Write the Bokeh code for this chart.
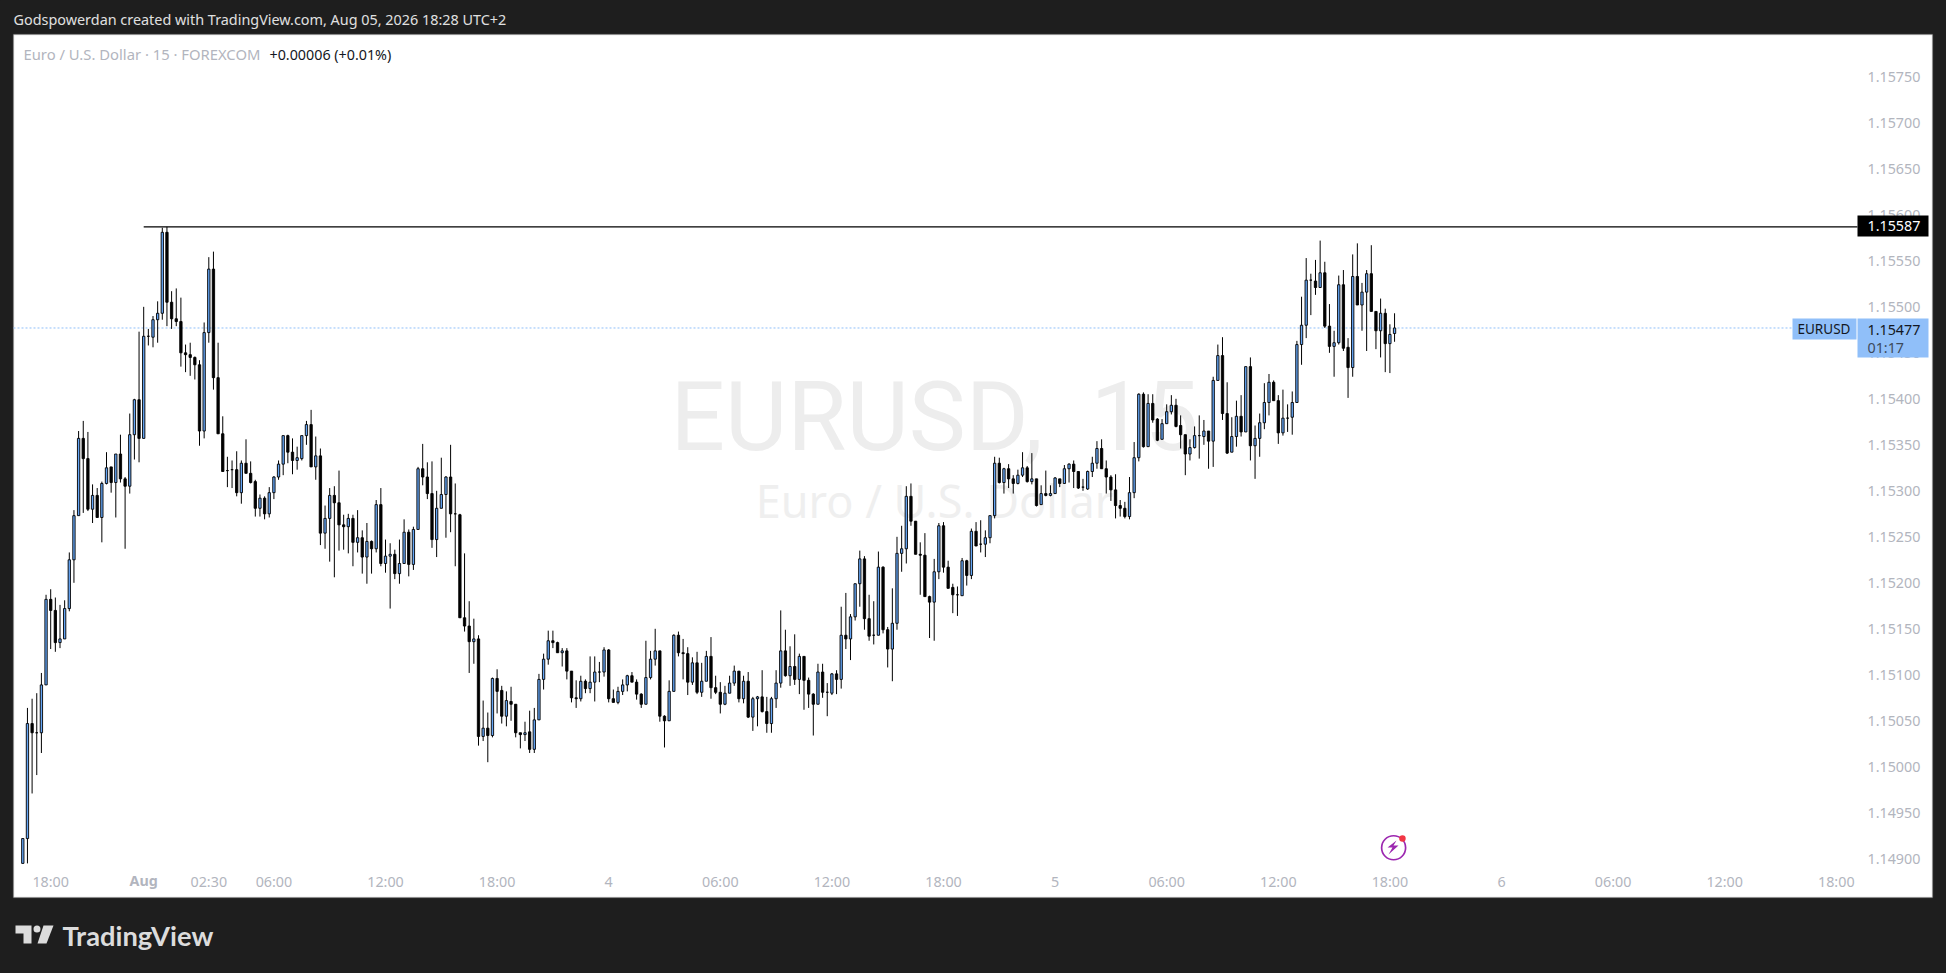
from bokeh.plotting import figure, ColumnDataSource
from bokeh.embed import file_html
from bokeh.resources import INLINE
from bokeh.models import (BoxAnnotation, Label, PolyAnnotation, FixedTicker, Range1d)

opens_pts = [
114895,114922,115047,115037,115037,115089,115182,115170,115135,115139,
115172,115225,115273,115357,115335,115280,115295,115271,115308,115326,
115309,115340,115313,115305,115361,115399,115357,115468,115467,115486,
115493,115581,115505,115487,115484,115450,115448,115445,115437,115365,
115472,115541,115423,115362,115322,115323,115323,115298,115330,115319,
115310,115281,115292,115275,115298,115315,115329,115360,115342,115333,
115335,115360,115372,115326,115338,115254,115270,115295,115287,115263,
115261,115270,115244,115249,115228,115245,115237,115285,115221,115229,
115231,115210,115221,115255,115220,115258,115324,115315,115297,115247,
115281,115296,115315,115275,115274,115162,115153,115136,115139,115033,
115042,115034,115096,115083,115055,115071,115068,115037,115035,115038,
115019,115051,115095,115117,115137,115135,115124,115126,115104,115075,
115074,115093,115085,115092,115103,115103,115127,115074,115070,115082,
115089,115099,115092,115079,115068,115097,115117,115126,115055,115050,
115082,115143,115124,115123,115092,115113,115081,115093,115120,115086,
115081,115068,115080,115091,115104,115074,115093,115054,115074,115076,
115060,115047,115074,115091,115126,115099,115109,115095,115120,115094,
115079,115068,115103,115081,115080,115101,115095,115143,115139,115163,
115199,115226,115161,115143,115143,115217,115149,115128,115156,115232,
115237,115294,115267,115231,115230,115185,115179,115212,115262,115217,
115195,115187,115186,115224,115208,115256,115242,115242,115249,115273,
115330,115309,115324,115313,115308,115317,115325,115310,115313,115285,
115297,115295,115297,115313,115308,115324,115329,115321,115304,115302,
115321,115330,115346,115324,115315,115301,115284,115281,115272,115298,
115336,115405,115348,115395,115378,115356,115373,115386,115393,115371,
115361,115340,115347,115360,115359,115365,115354,115420,115447,115384,
115342,115359,115381,115364,115435,115349,115357,115374,115396,115418,
115398,115363,115379,115380,115396,115459,115480,115529,115528,115521,
115537,115479,115457,115461,115524,115456,115434,115533,115502,115516,
115536,115495,115474,115493,115460,115471]

closes_pts = [
114922,115047,115037,115037,115089,115182,115170,115135,115139,115172,
115225,115273,115357,115335,115280,115295,115271,115308,115325,115309,
115340,115313,115305,115361,115399,115357,115468,115468,115486,115493,
115581,115505,115487,115484,115450,115448,115445,115437,115365,115472,
115541,115423,115362,115321,115322,115323,115298,115330,115319,115309,
115281,115292,115275,115298,115315,115329,115360,115342,115333,115336,
115360,115372,115326,115338,115254,115270,115295,115287,115263,115261,
115270,115244,115249,115228,115245,115237,115285,115221,115229,115231,
115210,115221,115255,115220,115258,115324,115315,115297,115247,115281,
115296,115315,115275,115275,115162,115153,115136,115139,115033,115042,
115034,115096,115082,115055,115072,115068,115037,115035,115037,115019,
115051,115095,115117,115137,115135,115124,115126,115104,115075,115074,
115093,115085,115092,115103,115103,115127,115074,115070,115082,115089,
115099,115092,115079,115068,115097,115117,115126,115055,115050,115082,
115143,115124,115123,115092,115113,115081,115093,115120,115086,115081,
115068,115080,115091,115104,115074,115093,115054,115074,115076,115060,
115047,115074,115091,115126,115099,115109,115095,115120,115094,115079,
115068,115103,115081,115081,115101,115095,115143,115139,115163,115199,
115226,115161,115142,115143,115217,115149,115128,115156,115232,115237,
115294,115267,115231,115230,115185,115179,115212,115262,115217,115194,
115187,115187,115224,115208,115256,115240,115242,115249,115273,115330,
115309,115324,115313,115308,115317,115325,115310,115313,115284,115297,
115295,115297,115314,115308,115324,115329,115321,115303,115304,115321,
115330,115346,115324,115315,115301,115284,115281,115272,115298,115336,
115405,115348,115395,115377,115355,115373,115386,115393,115370,115361,
115340,115347,115360,115360,115365,115354,115420,115447,115384,115341,
115359,115381,115364,115435,115349,115357,115374,115396,115418,115398,
115363,115379,115379,115396,115459,115480,115529,115529,115521,115537,
115479,115457,115461,115524,115455,115434,115533,115502,115516,115536,
115495,115474,115493,115460,115470,115477]

highs_pts = [
114922,115064,115074,115080,115102,115187,115193,115184,115176,115181,
115233,115279,115365,115376,115364,115307,115303,115310,115342,115326,
115340,115361,115315,115384,115400,115473,115500,115476,115490,115506,
115586,115587,115517,115520,115510,115459,115461,115446,115442,115483,
115554,115560,115461,115381,115337,115333,115343,115333,115356,115332,
115312,115296,115294,115304,115316,115333,115360,115361,115357,115348,
115360,115376,115388,115359,115346,115284,115303,115305,115322,115274,
115275,115274,115279,115257,115265,115246,115290,115303,115247,115243,
115236,115247,115269,115258,115261,115326,115351,115331,115332,115300,
115336,115316,115350,115308,115275,115232,115180,115161,115143,115072,
115059,115097,115106,115088,115082,115087,115068,115037,115049,115061,
115064,115101,115123,115148,115148,115136,115129,115129,115104,115094,
115099,115095,115120,115120,115114,115130,115128,115084,115087,115095,
115100,115103,115095,115080,115137,115126,115150,115126,115056,115094,
115144,115147,115139,115130,115119,115125,115113,115126,115141,115099,
115092,115088,115099,115110,115104,115099,115103,115076,115077,115105,
115076,115076,115105,115170,115149,115131,115144,115123,115120,115097,
115080,115112,115112,115091,115102,115105,115174,115189,115166,115199,
115235,115229,115187,115180,115234,115218,115152,115194,115250,115262,
115305,115308,115267,115244,115254,115186,115226,115265,115266,115224,
115199,115196,115227,115225,115259,115266,115268,115257,115273,115337,
115336,115325,115329,115317,115323,115342,115327,115341,115313,115306,
115322,115306,115315,115313,115328,115330,115333,115321,115313,115322,
115337,115354,115356,115333,115317,115318,115290,115288,115315,115353,
115406,115407,115405,115405,115379,115378,115394,115404,115400,115382,
115361,115356,115370,115382,115377,115365,115424,115459,115467,115418,
115380,115398,115404,115435,115445,115371,115384,115417,115427,115420,
115404,115410,115394,115408,115463,115511,115553,115536,115551,115572,
115549,115503,115474,115534,115540,115466,115557,115569,115526,115540,
115567,115495,115509,115498,115481,115493]

lows_pts = [
114895,114895,114971,114991,115015,115089,115128,115125,115129,115139,
115169,115200,115273,115276,115278,115265,115271,115244,115307,115298,
115271,115309,115237,115297,115334,115331,115357,115458,115456,115461,
115486,115479,115476,115479,115435,115429,115425,115421,115349,115357,
115461,115410,115362,115321,115304,115303,115294,115286,115319,115308,
115272,115272,115269,115271,115291,115312,115317,115330,115318,115323,
115333,115350,115326,115312,115241,115237,115223,115206,115235,115236,
115232,115218,115233,115210,115199,115210,115233,115218,115211,115172,
115204,115199,115221,115207,115214,115258,115306,115291,115238,115228,
115281,115249,115255,115218,115162,115147,115102,115112,115023,115028,
115005,115032,115058,115047,115044,115050,115032,115020,115028,115015,
115015,115051,115084,115111,115129,115124,115109,115095,115070,115064,
115071,115080,115080,115071,115092,115098,115070,115070,115068,115078,
115082,115092,115073,115064,115068,115095,115110,115049,115021,115050,
115082,115120,115095,115078,115089,115079,115076,115093,115074,115079,
115058,115067,115080,115088,115070,115069,115053,115039,115044,115059,
115037,115037,115064,115086,115098,115088,115089,115079,115062,115064,
115034,115068,115075,115055,115078,115079,115085,115128,115116,115159,
115174,115149,115137,115133,115143,115145,115108,115093,115149,115212,
115221,115262,115231,115187,115185,115140,115137,115204,115211,115194,
115167,115164,115186,115197,115204,115240,115233,115228,115243,115270,
115308,115297,115303,115297,115307,115315,115309,115307,115283,115285,
115294,115294,115297,115304,115308,115309,115303,115302,115300,115301,
115315,115324,115324,115297,115289,115270,115272,115270,115269,115292,
115332,115347,115348,115374,115354,115356,115373,115383,115369,115346,
115317,115333,115346,115335,115350,115324,115326,115420,115377,115340,
115342,115348,115359,115364,115333,115313,115337,115367,115382,115398,
115351,115360,115364,115361,115396,115437,115466,115491,115513,115521,
115477,115450,115424,115459,115452,115401,115424,115502,115474,115452,
115495,115454,115445,115429,115428,115462]

time_ticks = [6, 40, 54, 78, 102, 126, 150, 174, 198, 222, 246, 270, 294, 318, 342, 366, 390]
time_labels = ["18:00", "02:30", "06:00", "12:00", "18:00", "4", "06:00", "12:00", "18:00",
               "5", "06:00", "12:00", "18:00", "6", "06:00", "12:00", "18:00"]
month_tick = 26
month_label = "Aug"
price_ticks = [1.149, 1.1495, 1.15, 1.1505, 1.151, 1.1515, 1.152, 1.1525, 1.153,
               1.1535, 1.154, 1.1545, 1.155, 1.1555, 1.156, 1.1565, 1.157, 1.1575]
level_price = 1.15587
last_price = 1.15477

DARK = "#1e1e1e"
BLUE = "#90bff9"
BODY_BLUE = "#64a5f5"
GREY = "#b2b5be"
INK = "#131722"
FONT = "Noto Sans"
PANE_END = 394.55

idx = list(range(len(opens_pts)))
o = [v / 1e5 for v in opens_pts]
h = [v / 1e5 for v in highs_pts]
l = [v / 1e5 for v in lows_pts]
c = [v / 1e5 for v in closes_pts]
src = ColumnDataSource(dict(
    x=idx, o=o, h=h, l=l, c=c,
    fill=[BODY_BLUE if cc > oo else "#000000" for oo, cc in zip(o, c)],
    top=[max(a, b) for a, b in zip(o, c)],
    bottom=[min(a, b) for a, b in zip(o, c)],
))

p = figure(width=1946, height=973, frame_width=1946, frame_height=973,
           x_range=Range1d(-4.796, 413.7), y_range=Range1d(1.147753, 1.15833),
           y_axis_location="right", output_backend="svg", toolbar_location=None,
           min_border_left=0, min_border_top=0, min_border_right=0, min_border_bottom=0,
           border_fill_color=DARK, background_fill_color=DARK, outline_line_color=None)
p.grid.visible = False

p.add_layout(BoxAnnotation(left=13, right=1932, top=34, bottom=897,
                           left_units="canvas", right_units="canvas", top_units="canvas", bottom_units="canvas",
                           fill_color="#ffffff", fill_alpha=1, line_color="#8a8a8a", line_width=1.5,
                           level="underlay"))

for axis in (p.xaxis[0], p.yaxis[0]):
    axis.axis_line_color = None
    axis.major_tick_line_color = None
    axis.minor_tick_line_color = None
    axis.major_label_text_color = GREY
    axis.major_label_text_font = FONT
    axis.major_label_text_font_size = "14.3px"

p.xaxis[0].ticker = FixedTicker(ticks=time_ticks)
p.xaxis[0].major_label_overrides = {t: s for t, s in zip(time_ticks, time_labels)}
p.xaxis[0].major_label_standoff = -108
p.yaxis[0].ticker = FixedTicker(ticks=price_ticks)
p.yaxis[0].major_label_overrides = {t: f"{t:.5f}" for t in price_ticks}
p.yaxis[0].major_label_standoff = -85


def text(s, x, y, color, size, weight="normal", align="left", baseline="middle", level="annotation", font=FONT):
    p.add_layout(Label(x=x, y=y, x_units="canvas", y_units="canvas",
                       text=s, text_color=color, text_font=font, text_font_size=f"{size}px",
                       text_font_style=weight, text_align=align, text_baseline=baseline, level=level))


def poly(points, color):
    p.add_layout(PolyAnnotation(xs=[a for a, _ in points], ys=[b for _, b in points],
                                xs_units="canvas", ys_units="canvas",
                                fill_color=color, fill_alpha=1, line_color=None))


def tag(left, right, top, bottom, color):
    p.add_layout(BoxAnnotation(left=left, right=right, top=top, bottom=bottom,
                               left_units="canvas", right_units="canvas", top_units="canvas", bottom_units="canvas",
                               fill_color=color, fill_alpha=1, line_color=None, level="annotation"))


# watermark
text("EURUSD,\u00a0\u00a015", 670, 416, "#ededed", 96, level="underlay", font="Roboto")
text("Euro / U.S. Dollar", 934, 500, "#efefef", 45, align="center", level="underlay")

# current price line
p.line([-2, PANE_END], [last_price, last_price], line_color=BLUE, line_width=1, line_dash="2 2")

# candles
p.segment("x", "h", "x", "l", source=src, line_color="#000000", line_width=1)
p.vbar("x", 0.5, "top", "bottom", source=src, fill_color="fill", line_color="#000000", line_width=0.9)

# drawn level
p.line([month_tick, PANE_END], [level_price, level_price], line_color="#000000", line_width=1.2)

# bolt icon
p.scatter([294.8], [1.14912], marker="circle", size=24, fill_color=None, line_color="#9c27b0", line_width=1.7)
p.scatter([296.7], [1.14922], marker="circle", size=6.5, fill_color="#f23645", line_color=None)
poly([(1396, 840), (1387, 847), (1392, 847), (1388, 854), (1398, 845), (1393, 845)], "#9c27b0")

# month tag of the time scale
p.add_layout(Label(x=month_tick, y=879.5, x_units="data", y_units="canvas", text=month_label, text_color=GREY,
                   text_font=FONT, text_font_size="14.3px", text_font_style="bold",
                   text_align="center", text_baseline="middle"))

# price tags
tag(1857, 1928, 215, 236, "#000000")
text("1.15587", 1867, 225.5, "#ffffff", 14.3)
tag(1857, 1928, 318, 357, BLUE)
text("1.15477", 1867, 329, INK, 14.3)
text("01:17", 1867, 347, "#3d4a5c", 14.3)
tag(1792, 1856, 318, 339, BLUE)
text("EURUSD", 1797, 328.5, INK, 13.5)

# header, legend
text("Godspowerdan created with TradingView.com, Aug 05, 2026 18:28 UTC+2", 13, 19, "#e0e0e0", 14.4)
text("Euro / U.S. Dollar · 15 · FOREXCOM", 23, 53.5, GREY, 14.8)
text("+0.00006 (+0.01%)", 269, 53.5, INK, 14.3)

# logo
poly([(15, 925), (31, 925), (31, 943), (23, 943), (23, 933), (15, 933)], "#dcdcdc")
poly([(43, 925), (53, 925), (46, 943), (37, 943)], "#dcdcdc")
p.add_layout(BoxAnnotation(left=33, right=40, top=925, bottom=932,
                           left_units="canvas", right_units="canvas", top_units="canvas", bottom_units="canvas",
                           fill_color="#dcdcdc", fill_alpha=1, line_color=None, border_radius=4))
text("TradingView", 62, 935, "#dcdcdc", 27.3, weight="bold", font="Lato")

html = file_html(p, INLINE)
html = html.replace("</head>", f"<style>html,body{{background:{DARK};overflow:hidden}}</style></head>", 1)
open("out.html", "w").write(html)
